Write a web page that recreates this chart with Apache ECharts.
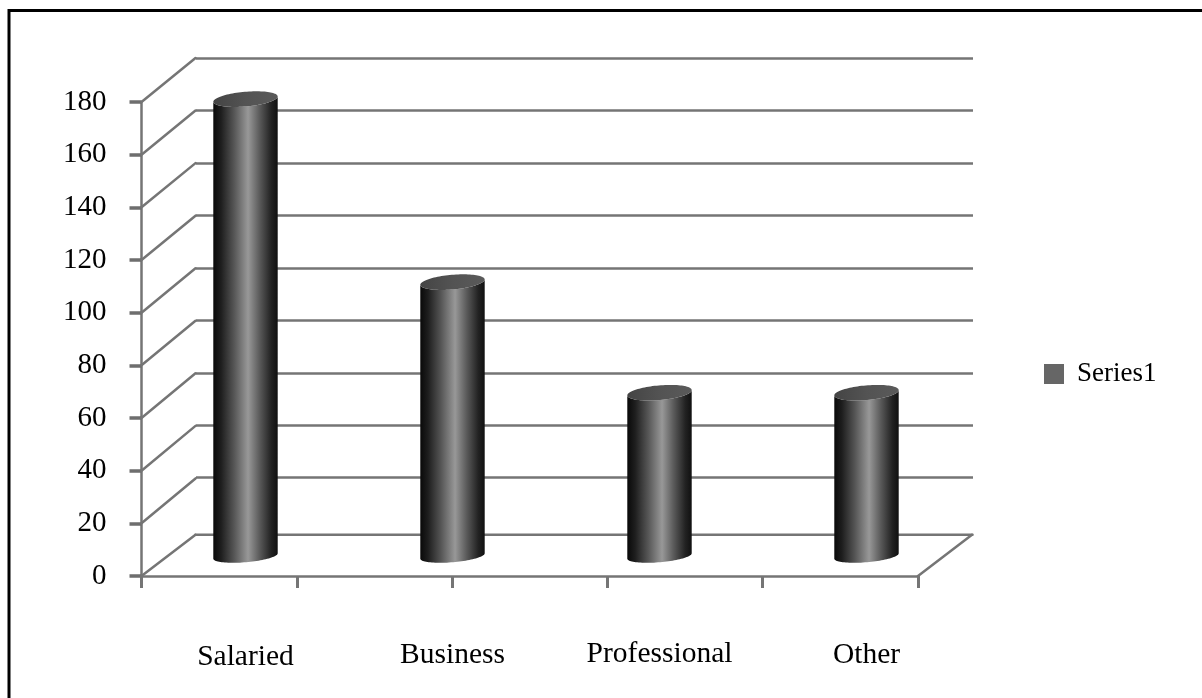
<!DOCTYPE html>
<html>
<head>
<meta charset="utf-8">
<style>html,body{margin:0;padding:0;background:#fff;overflow:hidden}#c{width:1202px;height:698px}</style>
<script src="https://cdn.jsdelivr.net/npm/echarts@6/dist/echarts.min.js"></script>
</head>
<body>
<div id="c"></div>
<script>
const categories = ['Salaried', 'Business', 'Professional', 'Other'];
const seriesName = 'Series1';
const values = [173.5, 104, 62, 62];
const yMin = 0;
const yMax = 180;
const yStep = 20;
const xSlots = 5;
const yTicks = [0, 20, 40, 60, 80, 100, 120, 140, 160, 180];
const labelNudge = [3, 1, 0, 1];

const SERIF = '"Liberation Serif","Times New Roman",serif';
const GRID_LINE = '#757575';

const chart = echarts.init(document.getElementById('c'), null, { renderer: 'canvas' });

function hiddenY(gridIndex) {
  return {
    type: 'value', gridIndex, min: yMin, max: yMax, interval: yStep,
    axisLine: { show: false }, axisTick: { show: false }, axisLabel: { show: false },
    splitLine: { show: false }
  };
}

// Depth lines: from the front plane to the back wall; the floor sits lower than the wall's scale.
function renderDepth(params, api) {
  const x = api.value(0), v = api.value(1), kind = api.value(2);
  const p = api.coord([x, v]);
  const rise = v === 0 ? -41.3 : -45 + (v / yMax);
  const end = [p[0] + 54, p[1] + rise];
  const line = kind === 1
    ? { x1: p[0] + 54, y1: p[1] + rise, x2: api.coord([xSlots, 0])[0] + 54.5, y2: p[1] + rise }
    : { x1: p[0], y1: p[1], x2: end[0], y2: end[1] };
  return {
    type: 'line', shape: line,
    style: { stroke: GRID_LINE, lineWidth: 2.5, lineCap: 'round' }
  };
}

function renderCylinder(params, api) {
  const top = api.coord([api.value(0), api.value(1)]);
  const base = api.coord([api.value(0), 0]);
  const a = [32.2, -2.8], bTop = [0.7, 7.3], bBase = [0.7, 6.2];
  const at = (c, b, t) => [c[0] + Math.cos(t) * a[0] + Math.sin(t) * b[0],
                           c[1] + Math.cos(t) * a[1] + Math.sin(t) * b[1]];
  const body = [], cap = [];
  const N = 48;
  for (let i = 0; i <= N; i++) body.push(at(base, bBase, Math.PI - (i / N) * Math.PI));
  body.push(at(top, bTop, 0));
  for (let i = 0; i <= N; i++) body.push(at(top, bTop, (i / N) * Math.PI));
  for (let i = 0; i < N * 2; i++) cap.push(at(top, bTop, (i / N) * Math.PI));
  return {
    type: 'group',
    children: [
      {
        type: 'polygon', shape: { points: body },
        style: {
          fill: new echarts.graphic.LinearGradient(0, 0, 1, 0, [
            { offset: 0, color: '#090909' },
            { offset: 0.12, color: '#1e1e1e' },
            { offset: 0.32, color: '#555555' },
            { offset: 0.54, color: '#989898' },
            { offset: 0.72, color: '#5a5a5a' },
            { offset: 0.9, color: '#222222' },
            { offset: 1, color: '#101010' }
          ])
        }
      },
      {
        type: 'polygon', shape: { points: cap },
        style: {
          fill: new echarts.graphic.LinearGradient(0, 0, 1, 0, [
            { offset: 0, color: '#444444' },
            { offset: 0.5, color: '#535353' },
            { offset: 1, color: '#5a5a5a' }
          ])
        }
      }
    ]
  };
}

chart.setOption({
  animation: false,
  backgroundColor: '#ffffff',
  graphic: [{
    type: 'rect', silent: true, z: -10,
    shape: { x: 9, y: 10.5, width: 1400, height: 900 },
    style: { fill: 'none', stroke: '#000000', lineWidth: 3 }
  }],
  legend: {
    data: [seriesName],
    left: 1039, top: 355.5,
    icon: 'rect', itemWidth: 20, itemHeight: 20,
    selectedMode: false,
    textStyle: { fontFamily: SERIF, fontSize: 27, color: '#000', padding: [0, 0, 0, 8] }
  },
  grid: [
    { left: 196, top: 58, width: 777, height: 472.2 },
    { left: 141.5, top: 102, width: 776.5, height: 474 },
    { left: 142, top: 82, width: 828, height: 474 }
  ],
  xAxis: [
    {
      type: 'value', gridIndex: 0, min: 0, max: xSlots, interval: 1,
      axisLine: { show: false }, axisTick: { show: false }, axisLabel: { show: false },
      splitLine: { show: false }
    },
    {
      type: 'value', gridIndex: 1, min: 0, max: xSlots, interval: 1,
      axisLine: { show: true, onZero: false, lineStyle: { color: GRID_LINE, width: 2.5 } },
      axisTick: { show: true, length: 12, lineStyle: { color: GRID_LINE, width: 3 } },
      axisLabel: { show: false }, splitLine: { show: false }
    },
    {
      type: 'category', gridIndex: 2,
      data: categories.map((c, i) => ({ value: c, textStyle: { padding: [labelNudge[i], 0, 0, 0] } })),
      axisLine: { show: false }, axisTick: { show: false }, splitLine: { show: false },
      axisLabel: { show: true, interval: 0, margin: 83.5, fontFamily: SERIF, fontSize: 29.5, color: '#000' }
    }
  ],
  yAxis: [
    {
      type: 'value', gridIndex: 0, min: yMin, max: yMax, interval: yStep,
      axisLine: { show: false }, axisTick: { show: false }, axisLabel: { show: false },
      splitLine: { show: true, showMinLine: false, lineStyle: { color: GRID_LINE, width: 2.5 } }
    },
    {
      type: 'value', gridIndex: 1, min: yMin, max: yMax, interval: yStep,
      axisLine: { show: true, lineStyle: { color: GRID_LINE, width: 2.5 } },
      axisTick: { show: true, length: 12, lineStyle: { color: '#6e6e6e', width: 3.5 } },
      axisLabel: { show: true, margin: 35, padding: [6, 0, 0, 0], fontFamily: SERIF, fontSize: 29, color: '#000' },
      splitLine: { show: false }
    },
    hiddenY(2)
  ],
  series: [
    {
      type: 'custom', xAxisIndex: 1, yAxisIndex: 1, silent: true, z: 2,
      renderItem: renderDepth,
      encode: { x: 0, y: 1 },
      data: yTicks.map(v => [0, v, 0]).concat([[xSlots, 0, 0], [0, 0, 1]])
    },
    {
      name: seriesName, type: 'custom', xAxisIndex: 2, yAxisIndex: 2, silent: true, z: 5,
      itemStyle: { color: '#666666' },
      renderItem: renderCylinder,
      encode: { x: 0, y: 1 },
      data: categories.map((c, i) => [i, values[i]])
    }
  ]
});
</script>
</body>
</html>
